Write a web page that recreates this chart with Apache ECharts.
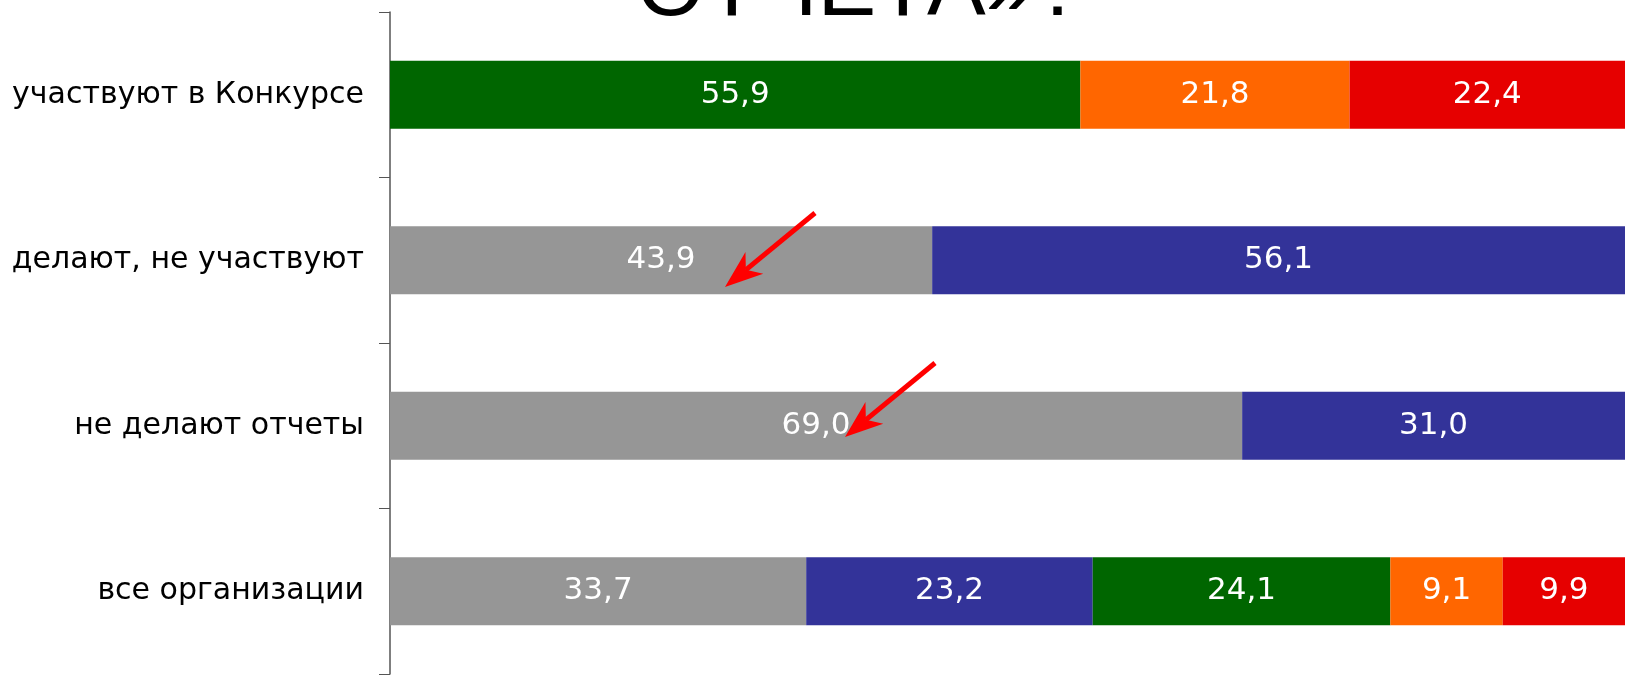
<!DOCTYPE html>
<html>
<head>
<meta charset="utf-8">
<script src="https://cdn.jsdelivr.net/npm/echarts@6/dist/echarts.min.js"></script>
<style>
  html, body { margin: 0; padding: 0; background: #fff; }
  #chart { width: 1625px; height: 675px; }
</style>
</head>
<body>
<div id="chart"></div>
<script>
// categories, top to bottom
const categories = ["участвуют в Конкурсе", "делают, не участвуют", "не делают отчеты", "все организации"];

// stacked series values (percent), same order as categories
const grayValues = [null, 43.9, 69.0, 33.7];
const blueValues = [null, 56.1, 31.0, 23.2];
const greenValues = [55.9, null, null, 24.1];
const orangeValues = [21.8, null, null, 9.1];
const redValues = [22.4, null, null, 9.9];

const colors = ["#969696", "#333399", "#006600", "#ff6600", "#e60000"];

const chart = echarts.init(document.getElementById("chart"));

function fmt(p) {
    return p.value == null ? "" : p.value.toFixed(1).replace(".", ",");
}

function makeSeries(name, values, color) {
    return {
        name: name,
        type: "bar",
        stack: "total",
        data: values,
        barCategoryGap: "59%",
        itemStyle: { color: color },
        label: {
            show: true,
            position: "inside",
            formatter: fmt,
            color: "#fff",
            fontFamily: "DejaVu Sans",
            fontSize: 31,
            padding: [6, 0, 0, 0],
        },
        animation: false,
    };
}

// red arrow annotation (start -> tip), head computed from direction
function arrow(x1, y1, x2, y2) {
    const dx = x2 - x1, dy = y2 - y1;
    const len = Math.sqrt(dx * dx + dy * dy);
    const ux = dx / len, uy = dy / len;
    const nx = -uy, ny = ux;
    const headLen = 38, headW = 14, notch = 27;
    const bx = x2 - headLen * ux, by = y2 - headLen * uy;
    const mx = x2 - notch * ux, my = y2 - notch * uy;
    return [
        {
            type: "line",
            z: 100,
            shape: { x1: x1, y1: y1, x2: mx, y2: my },
            style: { stroke: "#ff0000", lineWidth: 5 },
        },
        {
            type: "polygon",
            z: 100,
            shape: {
                points: [
                    [x2, y2],
                    [bx + headW * nx, by + headW * ny],
                    [mx, my],
                    [bx - headW * nx, by - headW * ny],
                ],
            },
            style: { fill: "#ff0000" },
        },
    ];
}

const option = {
    backgroundColor: "#fff",
    animation: false,
    grid: { left: 390, top: 12, width: 1243, bottom: 1, containLabel: false },
    xAxis: {
        type: "value",
        min: 0,
        max: 100,
        show: false,
    },
    yAxis: {
        type: "category",
        inverse: true,
        data: categories,
        axisLine: { show: true, lineStyle: { color: "#555", width: 1.5 } },
        axisTick: { show: true, length: 11, lineStyle: { color: "#555" } },
        axisLabel: {
            color: "#000",
            fontFamily: "DejaVu Sans",
            fontSize: 30,
            margin: 26,
            padding: [9, 0, 0, 0],
        },
        splitLine: { show: false },
    },
    series: [
        makeSeries("gray", grayValues, colors[0]),
        makeSeries("blue", blueValues, colors[1]),
        makeSeries("green", greenValues, colors[2]),
        makeSeries("orange", orangeValues, colors[3]),
        makeSeries("red", redValues, colors[4]),
    ],
    graphic: [
        {
            type: "text",
            z: 100,
            x: 860,
            y: -9,
            style: {
                text: "ОТЧЕТА»?",
                fill: "#000",
                font: "88px 'Liberation Sans'",
                align: "center",
                verticalAlign: "middle",
            },
        },
    ].concat(arrow(815, 213, 725, 287), arrow(935, 363, 845, 437)),
};

chart.setOption(option);
</script>
</body>
</html>
